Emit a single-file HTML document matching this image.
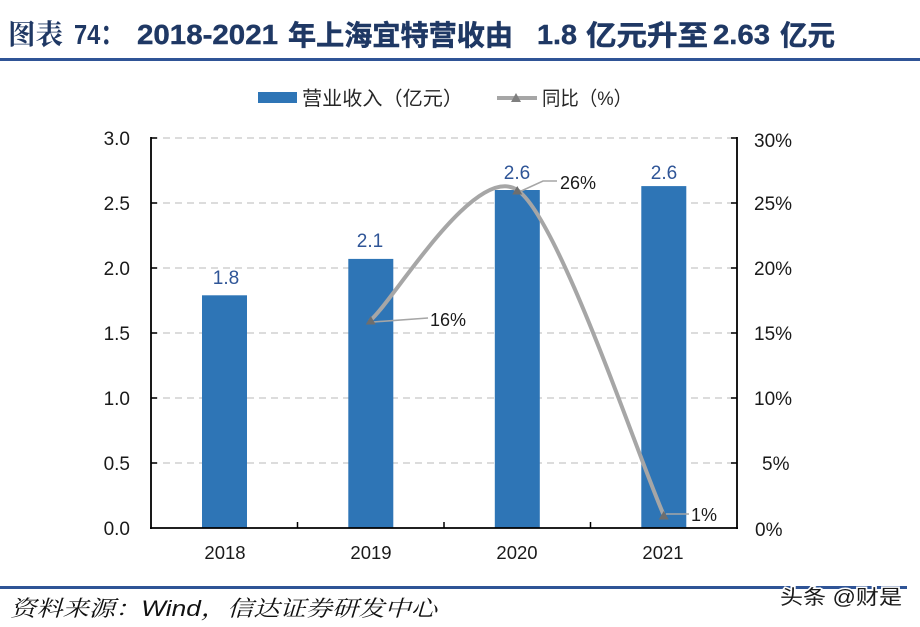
<!DOCTYPE html>
<html>
<head>
<meta charset="utf-8">
<style>
  html,body{margin:0;padding:0;background:#fff;}
  svg{display:block;}
  .t{font-family:"Liberation Sans","Noto Sans CJK SC",sans-serif;}
</style>
</head>
<body>
<svg width="920" height="627" viewBox="0 0 920 627" xmlns="http://www.w3.org/2000/svg">
  <rect x="0" y="0" width="920" height="627" fill="#fff"/>

  <!-- Title -->
  <g fill="#1F3864" font-weight="bold" font-size="28">
    <text x="8" y="44" textLength="55" lengthAdjust="spacingAndGlyphs" font-family="'Noto Serif CJK SC','Noto Sans CJK SC',serif">图表</text>
    <text class="t" x="74" y="44" textLength="50" lengthAdjust="spacingAndGlyphs">74：</text>
    <text class="t" x="137" y="44" textLength="141" lengthAdjust="spacingAndGlyphs" stroke="#1F3864" stroke-width="0.4">2018-2021</text>
    <text class="t" x="288" y="45" textLength="225" lengthAdjust="spacingAndGlyphs" stroke="#1F3864" stroke-width="0.5">年上海宜特营收由</text>
    <text class="t" x="537" y="44" textLength="40" lengthAdjust="spacingAndGlyphs" stroke="#1F3864" stroke-width="0.4">1.8</text>
    <text class="t" x="586" y="45" textLength="122" lengthAdjust="spacingAndGlyphs" stroke="#1F3864" stroke-width="0.5">亿元升至</text>
    <text class="t" x="713" y="44" textLength="57" lengthAdjust="spacingAndGlyphs" stroke="#1F3864" stroke-width="0.4">2.63</text>
    <text class="t" x="780" y="45" textLength="55" lengthAdjust="spacingAndGlyphs" stroke="#1F3864" stroke-width="0.5">亿元</text>
  </g>
  <rect x="0" y="58" width="920" height="3" fill="#2F5496"/>

  <!-- Legend -->
  <rect x="258" y="92" width="39" height="11" fill="#2E75B6"/>
  <text class="t" x="302" y="105" font-size="19.5" fill="#262626" textLength="161" lengthAdjust="spacingAndGlyphs">营业收入（亿元）</text>
  <line x1="497" y1="98" x2="537" y2="98" stroke="#A6A6A6" stroke-width="4"/>
  <polygon points="511,102 521,102 516,93" fill="#7F7F7F"/>
  <text class="t" x="542" y="105" font-size="19.5" fill="#262626" textLength="90" lengthAdjust="spacingAndGlyphs">同比（%）</text>

  <!-- Gridlines -->
  <g stroke="#D0D0D0" stroke-width="1.5" stroke-dasharray="7,5">
    <line x1="151" y1="138" x2="737" y2="138"/>
    <line x1="151" y1="203" x2="737" y2="203"/>
    <line x1="151" y1="268" x2="737" y2="268"/>
    <line x1="151" y1="333" x2="737" y2="333"/>
    <line x1="151" y1="398" x2="737" y2="398"/>
    <line x1="151" y1="463" x2="737" y2="463"/>
  </g>

  <!-- Bars -->
  <g fill="#2E75B6">
    <rect x="202" y="295.3" width="45" height="232.7"/>
    <rect x="348.3" y="258.9" width="45" height="269.1"/>
    <rect x="494.8" y="190" width="45" height="338"/>
    <rect x="641.3" y="186.1" width="45" height="341.9"/>
  </g>

  <!-- Axes -->
  <g stroke="#000" stroke-width="1.8" fill="none">
    <line x1="151" y1="137" x2="151" y2="529"/>
    <line x1="737" y1="137" x2="737" y2="529"/>
    <line x1="150" y1="528" x2="738" y2="528"/>
  </g>
  <g stroke="#000" stroke-width="1.5">
    <line x1="151" y1="138" x2="157" y2="138"/>
    <line x1="151" y1="203" x2="157" y2="203"/>
    <line x1="151" y1="268" x2="157" y2="268"/>
    <line x1="151" y1="333" x2="157" y2="333"/>
    <line x1="151" y1="398" x2="157" y2="398"/>
    <line x1="151" y1="463" x2="157" y2="463"/>
    <line x1="737" y1="138" x2="731" y2="138"/>
    <line x1="737" y1="203" x2="731" y2="203"/>
    <line x1="737" y1="268" x2="731" y2="268"/>
    <line x1="737" y1="333" x2="731" y2="333"/>
    <line x1="737" y1="398" x2="731" y2="398"/>
    <line x1="737" y1="463" x2="731" y2="463"/>
    <line x1="297.5" y1="528" x2="297.5" y2="522"/>
    <line x1="444" y1="528" x2="444" y2="522"/>
    <line x1="590.5" y1="528" x2="590.5" y2="522"/>
  </g>

  <!-- Left axis labels -->
  <g class="t" font-size="19" fill="#1a1a1a" text-anchor="end">
    <text x="130" y="145">3.0</text>
    <text x="130" y="210">2.5</text>
    <text x="130" y="275">2.0</text>
    <text x="130" y="340">1.5</text>
    <text x="130" y="405">1.0</text>
    <text x="130" y="470">0.5</text>
    <text x="130" y="535">0.0</text>
  </g>
  <!-- Right axis labels -->
  <g class="t" font-size="19" fill="#1a1a1a" text-anchor="start">
    <text x="754" y="147">30%</text>
    <text x="754" y="210">25%</text>
    <text x="754" y="275">20%</text>
    <text x="754" y="340">15%</text>
    <text x="754" y="405">10%</text>
    <text x="762" y="470">5%</text>
    <text x="755" y="536">0%</text>
  </g>
  <!-- X labels -->
  <g class="t" font-size="18.5" fill="#1a1a1a" text-anchor="middle">
    <text x="225" y="559">2018</text>
    <text x="371" y="559">2019</text>
    <text x="517" y="559">2020</text>
    <text x="663" y="559">2021</text>
  </g>

  <!-- Bar value labels -->
  <g class="t" font-size="19" fill="#2F5597" text-anchor="middle">
    <text x="226" y="284">1.8</text>
    <text x="370" y="247">2.1</text>
    <text x="517" y="179">2.6</text>
    <text x="664" y="179">2.6</text>
  </g>

  <!-- Smoothed line -->
  <path d="M370.75,320 C395.2,298.3 475.4,162.1 517.25,190 C559.1,217.9 639.3,460.8 663.75,515" fill="none" stroke="#A6A6A6" stroke-width="4" stroke-linecap="round"/>

  <!-- Leader lines -->
  <g stroke="#A6A6A6" stroke-width="1.6" fill="none">
    <polyline points="373,322 428,318"/>
    <polyline points="519,192 543,181 557,181"/>
    <polyline points="666,514 689,514"/>
  </g>

  <!-- Markers -->
  <g fill="#6E6E6E">
    <polygon points="365.75,324.5 375.75,324.5 370.75,316"/>
    <polygon points="512.25,194.5 522.25,194.5 517.25,186"/>
    <polygon points="658.75,519.5 668.75,519.5 663.75,511"/>
  </g>

  <!-- Line data labels -->
  <g class="t" font-size="18" fill="#1a1a1a">
    <text x="430" y="326">16%</text>
    <text x="560" y="189">26%</text>
    <text x="691" y="521">1%</text>
  </g>

  <!-- Footer -->
  <rect x="0" y="586" width="907" height="3" fill="#2F5496"/>
  <text x="10" y="616" font-size="22" font-style="italic" fill="#111" textLength="427" lengthAdjust="spacingAndGlyphs" font-family="'Liberation Sans','Noto Serif CJK SC',serif">资料来源：Wind，信达证券研发中心</text>

  <!-- Watermark -->
  <text class="t" x="780" y="604" font-size="20" fill="#1a1a1a" stroke="#fff" stroke-width="3" paint-order="stroke" textLength="122" lengthAdjust="spacingAndGlyphs">头条 @财是</text>
</svg>
</body>
</html>
